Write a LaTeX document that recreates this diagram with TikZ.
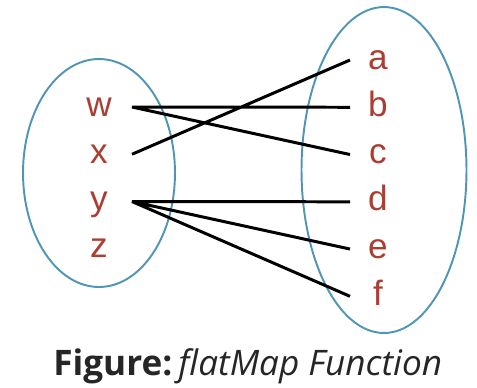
\documentclass[tikz,border=0pt]{standalone}
\usepackage{fontspec}
\setmainfont{Liberation Sans}
\newfontfamily\capfont{Open Sans}
\usetikzlibrary{positioning,shapes.geometric}
\definecolor{elemred}{RGB}{170,62,50}
\definecolor{setblue}{RGB}{80,150,180}
\tikzset{
	x=0.02cm, y=-0.02cm, % one unit is one pixel of the reference
	node distance=9.3pt, % gap between the letters of a set
	elem/.style={text=elemred, font=\fontsize{20}{20}\selectfont, inner sep=0pt, outer sep=0pt,
		text height=14pt, text depth=3.6pt}, % sets the look of every element
	src/.style={elem, minimum width=1.32cm}, % elements of the first set
	dst/.style={elem, minimum width=1.12cm}, % elements of the second set
	set/.style={draw=setblue, line width=1.1pt, ellipse}, % the two sets
	map/.style={line width=1.7pt}, % the mapping lines
}
\begin{document}
\begin{tikzpicture}
	\useasboundingbox (0,0) rectangle (477,387);
	\node[set, minimum width=3.04cm, minimum height=4.56cm] (dom) at (99,173) {};
	\node[set, minimum width=3.3cm, minimum height=6.52cm] (cod) at (384,170) {};

	\node[src] (w) at (99,107) {w};
	\node[src,below=of w] (x) {x};
	\node[src,below=of x] (y) {y};
	\node[src,below=of y] (z) {z};

	\node[dst] (a) at (378,60) {a};
	\node[dst,below=of a] (b) {b};
	\node[dst,below=of b] (c) {c};
	\node[dst,below=of c] (d) {d};
	\node[dst,below=of d] (e) {e};
	\node[dst,below=of e] (f) {f};

	\draw[map] (w.east) -- (b.west)
		(w.east) -- (c.west)
		(x.east) -- (a.west)
		(y.east) -- (d.west)
		(y.east) -- (e.west)
		(y.east) -- (f.west);

	\node[anchor=base west, inner sep=0pt, font=\capfont\fontsize{20}{20}\selectfont, text=black!85] (cap) at (53,375)
		{\textbf{Figure:}\hspace{3.5pt}\textit{flatMap Function}};
\end{tikzpicture}
\end{document}
